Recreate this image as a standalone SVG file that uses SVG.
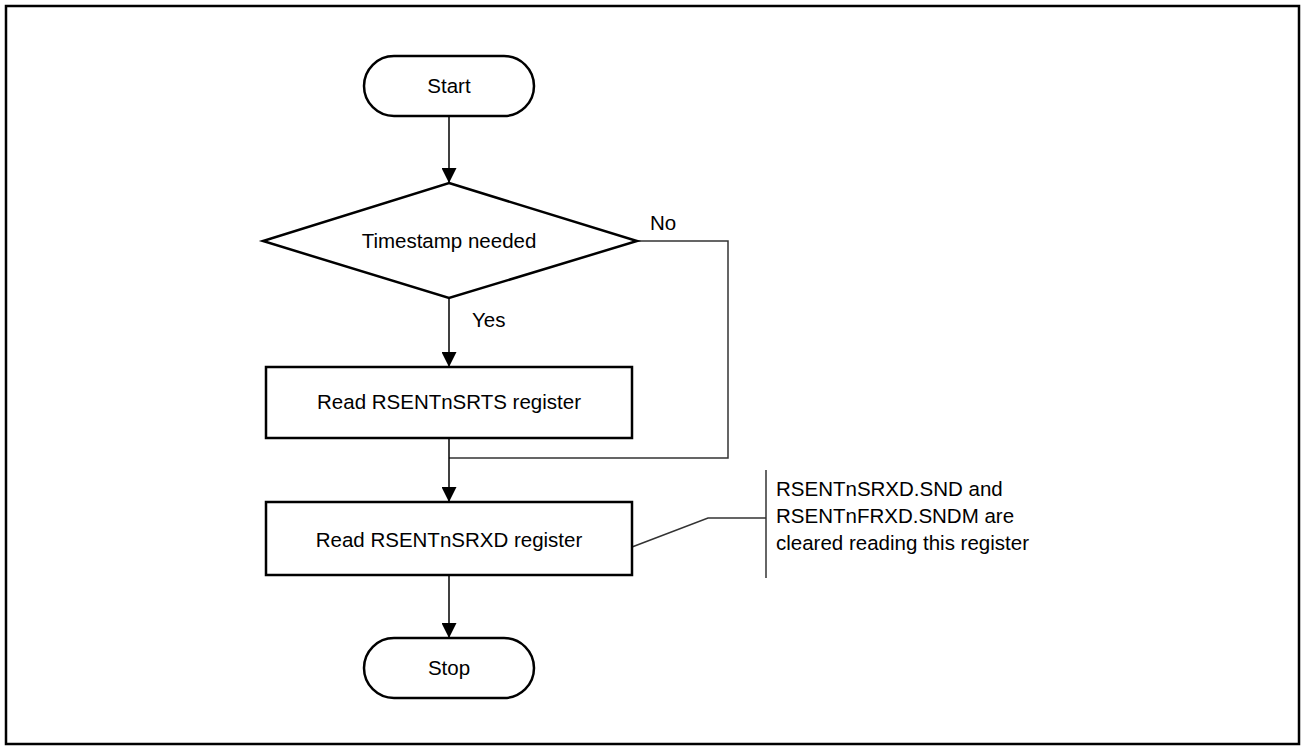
<svg xmlns="http://www.w3.org/2000/svg" width="1301" height="747" viewBox="0 0 1301 747">
<style>
.shape{fill:#fff;stroke:#000;stroke-width:2.5}
.conn{fill:none;stroke:#000;stroke-width:1.5}
.thin{fill:none;stroke:#333;stroke-width:1.5}
text{font-family:"Liberation Sans",Arial,sans-serif;font-size:20.5px;fill:#000}
.c{text-anchor:middle}
</style>
<defs>
<marker id="ah" markerWidth="15" markerHeight="15" refX="15" refY="7.5" orient="auto" markerUnits="userSpaceOnUse">
<path d="M0,0 L15,7.5 L0,15 Z" fill="#000"/>
</marker>
</defs>
<rect x="6" y="6" width="1293" height="738" fill="none" stroke="#000" stroke-width="2.5"/>
<g id="connectors">
<line class="conn" x1="449" y1="116" x2="449" y2="183" marker-end="url(#ah)"/>
<line class="conn" x1="449" y1="298" x2="449" y2="367" marker-end="url(#ah)"/>
<path class="thin" d="M637,241 H728 V458 H449"/>
<line class="conn" x1="449" y1="438" x2="449" y2="502" marker-end="url(#ah)"/>
<line class="conn" x1="449" y1="575" x2="449" y2="638" marker-end="url(#ah)"/>
<polyline class="thin" points="632,547 708,518 766,518"/>
<line class="thin" x1="766" y1="470" x2="766" y2="578"/>
</g>
<g id="start">
<rect class="shape" x="364" y="56" width="170" height="60" rx="30"/>
<text class="c" x="449" y="93">Start</text>
</g>
<g id="decision">
<polygon class="shape" points="449,183 637,241 449,298 263,241"/>
<text class="c" x="449" y="248">Timestamp needed</text>
</g>
<g id="label-no"><text x="650" y="230">No</text></g>
<g id="label-yes"><text x="472" y="327">Yes</text></g>
<g id="read-srts">
<rect class="shape" x="266" y="367" width="366" height="71"/>
<text class="c" x="449" y="409">Read RSENTnSRTS register</text>
</g>
<g id="read-srxd">
<rect class="shape" x="266" y="502" width="366" height="73"/>
<text class="c" x="449" y="547">Read RSENTnSRXD register</text>
</g>
<g id="note">
<text x="776" y="496">RSENTnSRXD.SND and</text>
<text x="776" y="523">RSENTnFRXD.SNDM are</text>
<text x="776" y="550">cleared reading this register</text>
</g>
<g id="stop">
<rect class="shape" x="364" y="638" width="170" height="60" rx="30"/>
<text class="c" x="449" y="675">Stop</text>
</g>
</svg>
